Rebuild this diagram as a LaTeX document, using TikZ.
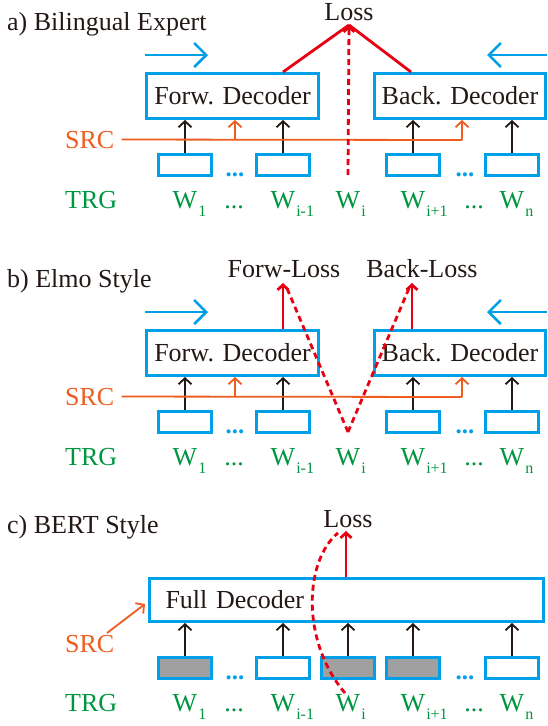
\documentclass[tikz,border=0pt]{standalone}
\usepackage{fontspec}
\setmainfont{Liberation Serif}
\usetikzlibrary{arrows.meta}

\definecolor{dblue}{RGB}{0,160,233}
\definecolor{dorange}{RGB}{238,92,32}
\definecolor{dred}{RGB}{230,0,18}
\definecolor{dgreen}{RGB}{0,150,64}
\definecolor{dgray}{RGB}{160,160,160}
\definecolor{dtext}{RGB}{35,24,21}

% subscript hung to the right of a W without taking width
\newcommand{\wsub}[1]{\rlap{\kern1pt\raisebox{-8.5pt}{\fontsize{16}{16}\selectfont #1}}}

% the two-decoder layout shared by panels a) and b)
\newcommand{\bidirpanel}[1]{%
  \node[dec, minimum width=172pt] (#1fd) at (232.5,96) {Forw. Decoder};
  \node[dec, minimum width=171pt] (#1bd) at (460,96) {Back. Decoder};
  \coordinate (#1fa0) at (145,55); \coordinate (#1fa1) at (208,55);
  \coordinate (#1ba0) at (547,55); \coordinate (#1ba1) at (487,55);
  \draw[dir] (#1fa0) -- (#1fa1);
  \draw[dir] (#1ba0) -- (#1ba1);
  \node[wbox] (#1w1) at (185,165) {};
  \node[wbox] (#1w2) at (283,165) {};
  \node[wbox] (#1w4) at (413,165) {};
  \node[wbox] (#1w5) at (512,165) {};
  \node[bdots] (#1bd1) at (235,176) {...};
  \node[bdots] (#1bd2) at (465,176) {...};
  \foreach \w/\d in {w1/fd, w2/fd, w4/bd, w5/bd}
    \draw[feed] (#1\w.north) -- (#1\w.north |- #1\d.south);
  \node[txt, text=dorange, anchor=base west] (#1src) at (65,148) {SRC};
  \coordinate (#1s1) at (235,140);
  \coordinate (#1s2) at (462,140);
  \draw[srcl] ([xshift=7pt]#1src.east) -- (#1s2);
  \draw[srca] (#1s1) -- (#1s1 |- #1fd.south);
  \draw[srca] (#1s2) -- (#1s2 |- #1bd.south);
  \node[wlab, anchor=base west] (#1trg) at (65,208) {TRG};
  \node[wlab] (#1l1) at (185,208) {W\wsub{1}};
  \node[wlab] (#1g1) at (234,208) {...};
  \node[wlab] (#1l2) at (283,208) {W\wsub{i-1}};
  \node[wlab] (#1l3) at (348,208) {W\wsub{i}};
  \node[wlab] (#1l4) at (413,208) {W\wsub{i+1}};
  \node[wlab] (#1g2) at (474,208) {...};
  \node[wlab] (#1l5) at (512,208) {W\wsub{n}};
}

\begin{document}
\begin{tikzpicture}[x=1pt, y=-1pt, font=\fontsize{26}{30}\selectfont,
  txt/.style={text=dtext, inner sep=0pt, anchor=base},
  paneltitle/.style={txt, anchor=base west},
  wbox/.style={draw=dblue, line width=2.5pt, fill=white, minimum width=53pt,
    minimum height=21pt, inner sep=0pt},
  mbox/.style={wbox, fill=dgray},
  dec/.style={draw=dblue, line width=3pt, minimum height=45pt, inner sep=0pt, text=dtext},
  dir/.style={draw=dblue, line width=2.5pt, -{Straight Barb[length=12pt,width=24pt]}},
  feed/.style={draw=dtext, line width=1.8pt, -{Straight Barb[length=6pt,width=13pt]}},
  srcl/.style={draw=dorange, line width=1.8pt},
  srca/.style={srcl, -{Straight Barb[length=6pt,width=13pt]}},
  loss/.style={draw=dred, line width=2.8pt},
  lossa/.style={loss, -{Straight Barb[length=5pt,width=11pt]}},
  lossd/.style={loss, dash pattern=on 6pt off 4pt},
  wlab/.style={text=dgreen, inner sep=0pt, anchor=base},
  bdots/.style={text=dblue, inner sep=0pt, anchor=base, font=\fontsize{25}{30}\selectfont\bfseries},
]
\useasboundingbox (0,0) rectangle (547,726);

% ---------- a) Bilingual Expert ----------
\node[paneltitle] (atitle) at (7,30) {a) Bilingual Expert};
\bidirpanel{a}
\node[txt] (aloss) at (349,20) {Loss};
\coordinate (alt) at (349,25);
\coordinate (afo) at (283,72);
\coordinate (abo) at (411,72);
\coordinate (awi) at (348,175);
\draw[loss] (afo) -- (alt);
\draw[loss] (abo) -- (alt);
\draw[lossd, -{Straight Barb[length=5pt,width=11pt]}] (awi) -- (alt);

% ---------- b) Elmo Style ----------
\begin{scope}[yshift=-257pt]
\node[paneltitle] (btitle) at (7,30) {b) Elmo Style};
\bidirpanel{b}
\node[txt] (bfl) at (284,20) {Forw-Loss};
\node[txt] (bbl) at (422,20) {Back-Loss};
\coordinate (bft) at (283,26);
\coordinate (bbt) at (412,26);
\coordinate (bfo) at (283,72);
\coordinate (bbo) at (412,72);
\coordinate (bwi) at (348,175);
\draw[lossa] (bfo) -- (bft);
\draw[lossa] (bbo) -- (bbt);
\draw[lossd] (bwi) -- (286,29);
\draw[lossd] (bwi) -- (410,29);
\end{scope}

% ---------- c) BERT Style ----------
\begin{scope}[yshift=-503pt]
\node[paneltitle] (ctitle) at (7,30) {c) BERT Style};
\node[dec, minimum width=394pt, minimum height=43pt, text width=362pt,
  inner xsep=16pt, align=left] (cfd) at (346.5,97) {Full Decoder};
\node[mbox] (cw1) at (185,165) {};
\node[wbox] (cw2) at (283,165) {};
\node[mbox] (cw3) at (348,165) {};
\node[mbox] (cw4) at (413,165) {};
\node[wbox] (cw5) at (512,165) {};
\node[bdots] (cbd1) at (235,176) {...};
\node[bdots] (cbd2) at (465,176) {...};
\foreach \w in {cw1, cw2, cw3, cw4, cw5}
  \draw[feed] (\w.north) -- (\w.north |- cfd.south);
\node[txt, text=dorange, anchor=base west] (csrc) at (65,149) {SRC};
\coordinate (cs0) at (107,130);
\coordinate (cs1) at (145,101);
\draw[srca] (cs0) -- (cs1);
\node[txt] (closs) at (348,24) {Loss};
\coordinate (clt) at (346,28);
\coordinate (cfo) at (346,74);
\draw[lossa] (cfo) -- (clt);
\draw[lossd] (345,190) .. controls (300,137) and (305,57) .. (338,30);
\node[wlab, anchor=base west] (ctrg) at (65,208) {TRG};
\node[wlab] (cl1) at (185,208) {W\wsub{1}};
\node[wlab] (cg1) at (234,208) {...};
\node[wlab] (cl2) at (283,208) {W\wsub{i-1}};
\node[wlab] (cl3) at (348,208) {W\wsub{i}};
\node[wlab] (cl4) at (413,208) {W\wsub{i+1}};
\node[wlab] (cg2) at (474,208) {...};
\node[wlab] (cl5) at (512,208) {W\wsub{n}};
\end{scope}
\end{tikzpicture}
\end{document}
